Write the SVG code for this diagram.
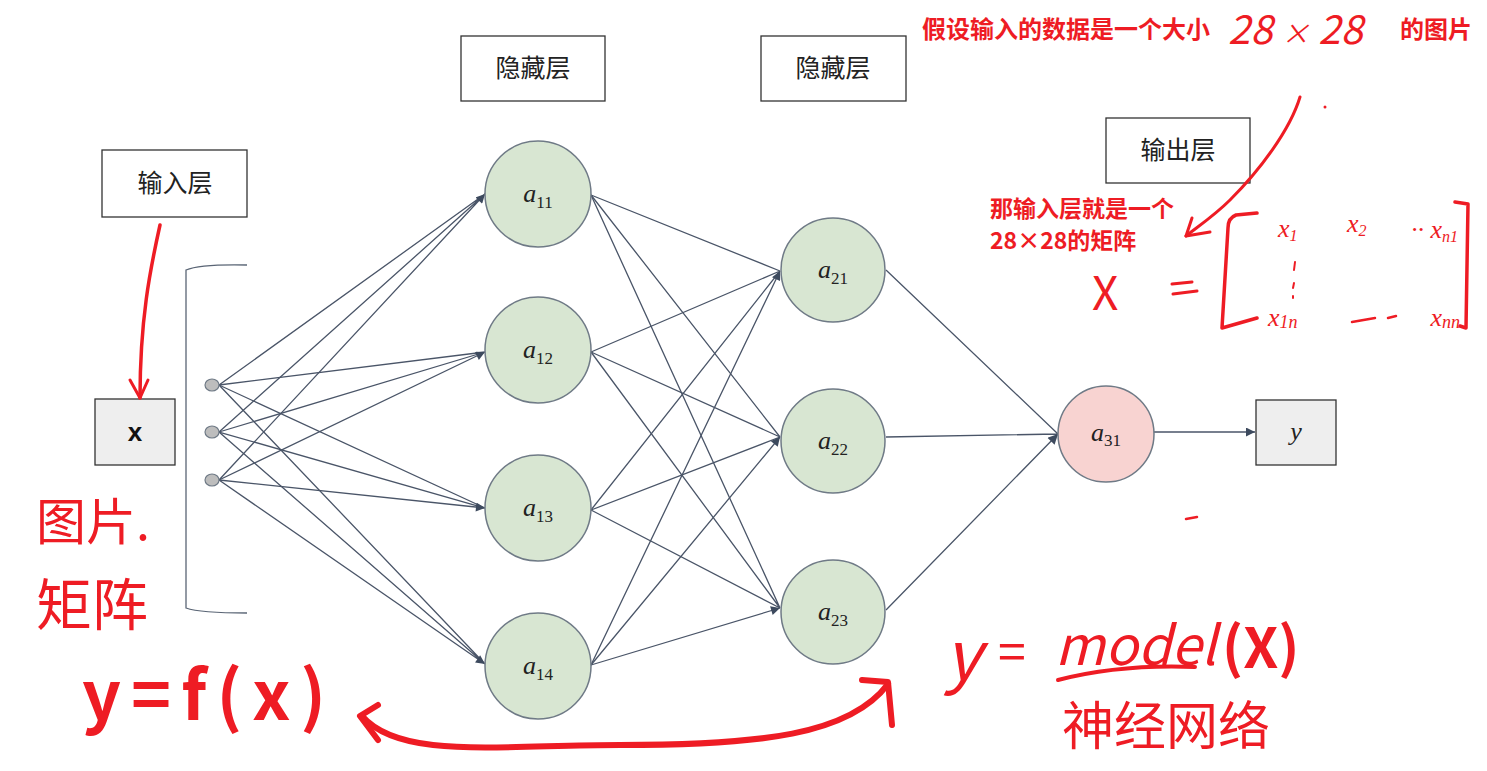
<svg xmlns="http://www.w3.org/2000/svg" width="1487" height="771" viewBox="0 0 1487 771">
<defs>
<marker id="ah" viewBox="0 0 10 10" refX="10" refY="5" markerWidth="10" markerHeight="9" markerUnits="userSpaceOnUse" orient="auto">
<path d="M0,0 L10,5 L0,10 Z" fill="#3d4a5e"/>
</marker>
<marker id="ah2" viewBox="0 0 10 10" refX="10" refY="5" markerWidth="12" markerHeight="10" markerUnits="userSpaceOnUse" orient="auto">
<path d="M0,0 L10,5 L0,10 Z" fill="#3d4a5e"/>
</marker>
<style>
.lbl{fill:#fff;stroke:#333;stroke-width:1.3}
.gbox{fill:#eeeeee;stroke:#333;stroke-width:1.3}
.cn{font-family:"Noto Sans CJK SC",sans-serif;font-size:25px;fill:#222;text-anchor:middle}
.hid{fill:#d8e6d2;stroke:#6f7a86;stroke-width:1.5}
.out{fill:#f8d3d1;stroke:#6f7a86;stroke-width:1.5}
.dot{fill:#bdbdbd;stroke:#6f7a86;stroke-width:1.2}
.math{font-family:"Liberation Serif","DejaVu Serif",serif;font-style:italic;font-size:26px;fill:#222;text-anchor:middle}
.sub{font-style:normal;font-size:17px}
.cl{stroke:#4a5568;stroke-width:1.3;fill:none}
.red{font-family:"Noto Sans CJK SC",sans-serif;font-weight:bold;fill:#ee1c24}
.hand{font-family:"Noto Sans CJK SC",sans-serif;fill:#ee1c24}
.rs{stroke:#ee1c24;fill:none;stroke-linecap:round;stroke-linejoin:round}
.mx{font-family:"Liberation Serif",serif;font-style:italic;font-size:26px;fill:#ee1c24}
</style>
</defs>
<rect width="1487" height="771" fill="#fff"/>

<!-- bracket -->
<path d="M247,265 Q200,264 186,270 L186,608 Q200,613 247,613" fill="none" stroke="#5a6575" stroke-width="1.3"/>

<g id="connectors">
<path class="cl" marker-end="url(#ah)" d="M219,385 L485,194 M219,432 L485,194 M219,480 L485,194"/>
<path class="cl" marker-end="url(#ah)" d="M219,385 L485,352 M219,432 L485,352 M219,480 L485,352"/>
<path class="cl" marker-end="url(#ah)" d="M219,385 L485,508 M219,432 L485,508 M219,480 L485,508"/>
<path class="cl" marker-end="url(#ah)" d="M219,385 L485,664 M219,432 L485,664 M219,480 L485,664"/>
<path class="cl" marker-end="url(#ah)" d="M591,195 L780,271 M591,352 L780,271 M591,510 L780,271 M591,665 L780,271"/>
<path class="cl" marker-end="url(#ah)" d="M591,195 L780,437 M591,352 L780,437 M591,510 L780,437 M591,665 L780,437"/>
<path class="cl" marker-end="url(#ah)" d="M591,195 L780,608 M591,352 L780,608 M591,510 L780,608 M591,665 L780,608"/>
<path class="cl" marker-end="url(#ah2)" d="M886,270 L1058,434 M886,437 L1058,434 M886,610 L1058,434"/>
<path class="cl" marker-end="url(#ah)" stroke-width="1.8" d="M1154,432 L1255,432"/>
</g>

<g id="label-input"><rect class="lbl" x="102" y="150" width="145" height="67"/><text class="cn" x="175" y="192">输入层</text></g>
<g id="label-hidden1"><rect class="lbl" x="461" y="36" width="144" height="65"/><text class="cn" x="533" y="77">隐藏层</text></g>
<g id="label-hidden2"><rect class="lbl" x="761" y="36" width="145" height="65"/><text class="cn" x="833" y="77">隐藏层</text></g>
<g id="label-output"><rect class="lbl" x="1106" y="118" width="144" height="65"/><text class="cn" x="1178" y="159">输出层</text></g>

<g id="node-X"><rect class="gbox" x="95" y="399" width="80" height="66"/><text x="135" y="441" font-family="Liberation Sans,sans-serif" font-weight="bold" font-size="26" text-anchor="middle" fill="#111">x</text></g>
<g id="node-y"><rect class="gbox" x="1256" y="400" width="80" height="65"/><text class="math" x="1296" y="440">y</text></g>

<g id="inputs">
<ellipse class="dot" cx="212" cy="385" rx="7" ry="6"/>
<ellipse class="dot" cx="212" cy="432" rx="7" ry="6"/>
<ellipse class="dot" cx="212" cy="480" rx="7" ry="6"/>
</g>

<g id="node-a11"><circle class="hid" cx="538" cy="194" r="53"/><text class="math" x="538" y="202">a<tspan class="sub" dy="6">11</tspan></text></g>
<g id="node-a12"><circle class="hid" cx="538" cy="350" r="53"/><text class="math" x="538" y="358">a<tspan class="sub" dy="6">12</tspan></text></g>
<g id="node-a13"><circle class="hid" cx="538" cy="508" r="53"/><text class="math" x="538" y="516">a<tspan class="sub" dy="6">13</tspan></text></g>
<g id="node-a14"><circle class="hid" cx="538" cy="666" r="53"/><text class="math" x="538" y="674">a<tspan class="sub" dy="6">14</tspan></text></g>
<g id="node-a21"><circle class="hid" cx="833" cy="270" r="52"/><text class="math" x="833" y="278">a<tspan class="sub" dy="6">21</tspan></text></g>
<g id="node-a22"><circle class="hid" cx="833" cy="441" r="52"/><text class="math" x="833" y="449">a<tspan class="sub" dy="6">22</tspan></text></g>
<g id="node-a23"><circle class="hid" cx="833" cy="612" r="52"/><text class="math" x="833" y="620">a<tspan class="sub" dy="6">23</tspan></text></g>
<g id="node-a31"><circle class="out" cx="1106" cy="434" r="48"/><text class="math" x="1106" y="441" font-size="23">a<tspan class="sub" dy="5" font-size="15">31</tspan></text></g>

<g id="annotations">
<text class="red" x="922" y="38" font-size="24">假设输入的数据是一个大小</text>
<text class="hand" x="1228" y="44" font-size="40" font-style="italic" font-family="Liberation Serif,serif">28 <tspan font-size="28">×</tspan> 28</text>
<text class="red" x="1400" y="38" font-size="24">的图片</text>
<path class="rs" stroke-width="3" d="M1300,97 C1290,130 1260,170 1230,200 C1215,215 1200,225 1186,236"/>
<path class="rs" stroke-width="3" d="M1192,218 L1186,236 L1210,232"/>
<circle cx="1325" cy="107" r="1.5" fill="#ee1c24"/>
<text class="red" x="990" y="217" font-size="23">那输入层就是一个</text>
<text class="red" x="990" y="249" font-size="23">28×28的矩阵</text>
<text class="hand" x="1092" y="310" font-size="46" font-family="Liberation Sans,sans-serif">X</text>
<path class="rs" stroke-width="3" d="M1172,284 L1192,282 M1173,294 L1197,291"/>
<path class="rs" stroke-width="3.5" d="M1257,213 L1236,215 Q1228,218 1228,228 L1222,328 L1257,318"/>
<path class="rs" stroke-width="3.5" d="M1455,202 L1468,204 L1466,328 L1460,326"/>
<text class="mx" x="1278" y="237">x<tspan font-size="16" dy="4">1</tspan></text>
<text class="mx" x="1347" y="232">x<tspan font-size="16" dy="4">2</tspan></text>
<text class="mx" x="1458" y="238" text-anchor="end">·· x<tspan font-size="16" dy="4">n1</tspan></text>
<path class="rs" stroke-width="2" d="M1295,262 L1294,270 M1294,283 L1293,288 M1293,296 L1293,298"/>
<text class="mx" x="1268" y="326">x<tspan font-size="18" dy="2">1n</tspan></text>
<path class="rs" stroke-width="2.5" d="M1352,322 L1375,318 M1388,318 L1396,316"/>
<text class="mx" x="1460" y="326" text-anchor="end">x<tspan font-size="18" dy="2">nn</tspan></text>
<path class="rs" stroke-width="2.5" d="M1186,519 L1197,517"/>

<path class="rs" stroke-width="3.5" d="M160,225 C150,270 140,320 140,398"/>
<path class="rs" stroke-width="3" d="M130,380 L140,398 L148,380"/>

<text class="hand" x="36" y="540" font-size="50">图片.</text>
<text class="hand" x="36" y="625" font-size="56">矩阵</text>
<text class="hand" x="82" y="720" font-size="68" font-weight="bold" font-family="Liberation Sans,sans-serif" letter-spacing="10">y=f(x)</text>

<path class="rs" stroke-width="6" d="M362,716 C400,760 500,745 620,745 C760,745 850,735 888,684"/>
<path class="rs" stroke-width="6" d="M378,705 L360,716 L378,740"/>
<path class="rs" stroke-width="6" d="M862,680 L888,682 L892,725"/>

<text class="hand" x="945" y="680" font-size="68" font-style="italic" font-family="Liberation Serif,serif">y</text>
<text class="hand" x="998" y="670" font-size="50" font-family="Liberation Sans,sans-serif">=</text>
<text class="hand" x="1055" y="665" font-size="54" font-style="italic" font-family="Liberation Serif,serif">model</text>
<text class="hand" x="1222" y="668" font-size="56" font-weight="bold" font-family="Liberation Sans,sans-serif">(X)</text>
<path class="rs" stroke-width="4" d="M1058,680 Q1120,664 1195,667"/>
<text class="hand" x="1062" y="745" font-size="52">神经网络</text>
</g>
</svg>
